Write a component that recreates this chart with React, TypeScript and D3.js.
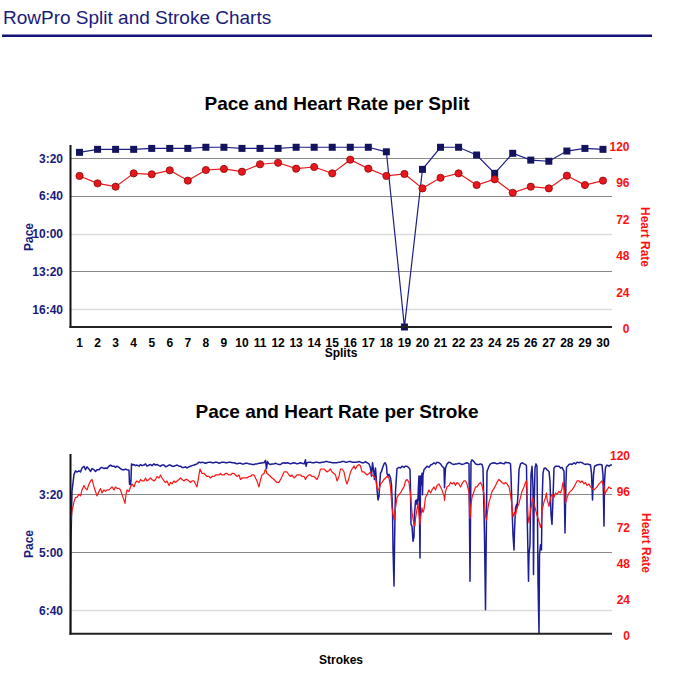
import React from 'react';
import * as d3 from 'd3';

const headerTitle = 'RowPro Split and Stroke Charts';
const splitTitle = 'Pace and Heart Rate per Split';
const strokeTitle = 'Pace and Heart Rate per Stroke';

const splits = [1,2,3,4,5,6,7,8,9,10,11,12,13,14,15,16,17,18,19,20,21,22,23,24,25,26,27,28,29,30];
// pace in seconds
const splitPace = [170,154,154,154,149,149,149,143,143,149,149,149,143,143,143,143,143,167,1095,260,143,143,184,281,175,211,217,163,149,154];
const splitHR = [99.6,94.7,92.5,101.3,100.7,103.3,96.5,103.5,104.2,102.4,107.3,108.3,104.4,105.5,101.3,110.3,104.4,99.6,100.9,91.4,98.4,101.3,93.6,97.4,88.5,92.5,91.4,99.8,93.6,96.5];

const splitPaceTicks = [200,400,600,800,1000];
const strokePaceTicks = [200,300,400];
const hrTicks = [0,24,48,72,96,120];

// [stroke, pace seconds]
const strokePace: [number, number][] = [[0,440],[1,278],[3,195],[7,166],[10,160],[13,162],[17,160],[20,162],[23,155],[27,152],[30,158],[33,153],[37,157],[40,161],[43,156],[47,158],[50,161],[53,158],[57,158],[60,155],[63,154],[67,156],[70,155],[73,156],[77,152],[80,150],[83,152],[87,152],[90,154],[93,152],[97,154],[100,156],[103,158],[107,158],[110,157],[113,158],[117,159],[118,183],[119,178],[120,184],[121,176],[122,148],[125,150],[127,149],[130,151],[133,150],[137,152],[140,149],[143,151],[147,150],[150,148],[153,152],[157,150],[160,149],[163,151],[167,148],[170,150],[173,149],[177,151],[180,152],[183,150],[187,150],[190,153],[193,152],[197,150],[200,150],[203,152],[207,152],[210,151],[213,150],[217,152],[220,152],[223,154],[227,154],[230,153],[233,155],[237,153],[240,152],[243,151],[247,150],[250,149],[253,148],[257,145],[260,146],[263,145],[267,146],[270,147],[273,146],[277,145],[280,145],[283,146],[287,146],[290,145],[293,145],[297,147],[300,146],[303,145],[307,145],[310,146],[313,146],[317,145],[320,145],[323,146],[327,146],[330,147],[333,148],[337,147],[340,147],[343,148],[347,148],[350,147],[353,147],[357,148],[360,148],[363,149],[367,149],[370,148],[373,148],[377,147],[380,147],[383,146],[387,146],[390,142],[392,156],[394,144],[397,148],[400,149],[403,148],[407,148],[410,147],[413,148],[417,149],[420,149],[423,147],[427,146],[430,147],[433,146],[437,147],[440,148],[443,147],[447,146],[450,147],[453,148],[457,147],[460,146],[463,147],[467,148],[470,141],[471,152],[473,146],[477,145],[480,145],[483,146],[487,146],[490,145],[493,145],[497,146],[500,146],[503,145],[507,145],[510,144],[513,144],[517,145],[520,145],[523,146],[527,146],[530,146],[533,146],[537,145],[540,145],[543,144],[547,144],[550,145],[553,145],[557,144],[560,144],[563,145],[567,145],[570,145],[573,145],[577,144],[580,145],[583,146],[587,146],[590,144],[593,146],[597,148],[600,155],[602,169],[604,146],[607,164],[608,175],[610,155],[612,178],[613,192],[615,210],[617,204],[619,175],[620,164],[622,161],[624,155],[627,148],[629,146],[631,149],[632,152],[633,164],[635,169],[637,166],[640,172],[642,184],[644,227],[645,293],[647,358],[648,293],[649,235],[650,195],[653,156],[657,154],[660,155],[663,152],[667,154],[670,152],[673,152],[677,155],[679,158],[680,195],[681,252],[683,255],[685,281],[687,273],[688,235],[690,212],[692,210],[693,218],[695,207],[696,184],[697,169],[699,310],[700,169],[701,184],[703,164],[704,201],[705,167],[707,158],[710,155],[713,152],[717,154],[720,150],[723,149],[727,146],[730,148],[733,145],[737,146],[740,148],[743,152],[747,155],[748,189],[750,155],[753,148],[757,145],[760,146],[763,148],[767,149],[770,148],[773,148],[777,147],[780,148],[783,149],[787,148],[790,147],[793,146],[797,148],[799,350],[801,144],[803,141],[807,144],[810,148],[813,149],[817,149],[820,148],[823,149],[825,155],[828,270],[830,399],[832,235],[833,161],[837,152],[840,148],[843,147],[847,146],[850,147],[853,148],[857,147],[860,146],[863,147],[867,148],[870,145],[873,146],[877,146],[880,148],[881,167],[883,224],[885,270],[887,296],[888,264],[890,224],[892,218],[893,224],[895,201],[897,158],[900,148],[903,146],[907,148],[910,149],[912,152],[913,224],[915,304],[916,350],[917,304],[919,287],[920,224],[921,167],[923,152],[925,189],[926,338],[927,235],[929,155],[931,148],[933,152],[934,235],[935,350],[937,439],[938,304],[940,287],[942,296],[943,218],[945,164],[947,156],[950,155],[953,158],[957,161],[959,178],[961,235],[963,252],[965,207],[967,155],[970,152],[973,152],[977,152],[980,155],[983,154],[987,161],[989,267],[991,178],[992,154],[997,149],[1000,148],[1003,149],[1007,146],[1010,148],[1013,145],[1017,146],[1020,145],[1023,146],[1027,148],[1030,149],[1033,148],[1037,149],[1040,150],[1042,164],[1044,210],[1046,167],[1048,152],[1053,150],[1057,149],[1060,149],[1063,150],[1065,167],[1067,255],[1068,178],[1070,154],[1073,150],[1077,152],[1080,150],[1083,150]];

// [stroke, heart rate]
const strokeHR: [number, number][] = [[0,73],[1,76],[3,82],[7,88],[10,91],[13,91],[17,93],[20,92],[23,96],[27,99],[30,97],[33,96],[37,100],[40,102],[43,103],[47,98],[50,95],[53,92],[57,95],[60,97],[63,94],[67,96],[70,95],[73,96],[77,96],[80,97],[83,98],[87,96],[90,98],[93,97],[97,97],[100,96],[103,93],[107,89],[109,87],[111,93],[113,96],[117,95],[120,98],[123,100],[127,98],[130,101],[133,102],[137,101],[140,103],[143,102],[147,102],[150,104],[153,102],[157,103],[160,104],[163,103],[167,102],[170,103],[173,105],[177,104],[180,106],[183,104],[187,102],[190,101],[193,102],[197,99],[200,101],[203,100],[207,102],[210,101],[213,102],[217,103],[220,104],[223,103],[227,102],[230,103],[233,103],[237,102],[240,101],[243,102],[247,102],[250,100],[253,98],[257,106],[259,110],[263,107],[267,107],[270,106],[273,105],[277,105],[280,104],[283,105],[287,105],[290,106],[293,106],[297,106],[300,107],[303,106],[307,106],[310,107],[313,107],[317,106],[320,106],[323,107],[327,107],[330,106],[333,105],[337,106],[340,103],[343,104],[347,104],[350,104],[353,104],[357,105],[360,105],[363,106],[367,106],[370,104],[373,102],[377,98],[380,103],[383,106],[387,107],[390,110],[393,107],[397,106],[400,105],[403,104],[407,103],[410,102],[413,101],[417,101],[420,103],[423,105],[427,108],[430,108],[433,108],[437,106],[440,105],[443,106],[447,104],[450,105],[453,106],[457,106],[460,106],[463,105],[467,105],[470,103],[473,105],[477,106],[480,106],[483,105],[487,105],[490,104],[493,103],[497,106],[500,110],[503,110],[507,110],[510,109],[513,108],[517,109],[520,110],[523,108],[527,107],[530,106],[533,102],[537,105],[540,110],[543,110],[547,108],[550,103],[553,100],[557,104],[560,108],[563,110],[567,112],[570,110],[573,112],[577,113],[580,112],[583,108],[587,108],[590,107],[593,106],[597,107],[600,108],[603,106],[607,105],[610,104],[613,97],[617,96],[620,100],[623,101],[627,103],[630,104],[633,105],[637,104],[640,98],[643,84],[647,76],[650,84],[653,91],[657,93],[660,94],[663,96],[667,98],[670,102],[673,103],[677,101],[680,93],[683,81],[687,73],[689,72],[690,77],[692,81],[693,83],[695,87],[697,80],[699,73],[700,77],[703,84],[705,81],[707,83],[710,91],[713,93],[717,96],[720,94],[723,96],[727,98],[730,96],[733,99],[737,100],[740,98],[743,96],[747,92],[748,89],[750,95],[753,98],[757,99],[760,101],[763,100],[767,101],[770,99],[773,101],[777,100],[780,98],[783,100],[787,102],[790,102],[793,100],[797,94],[799,77],[801,86],[803,91],[807,95],[810,98],[813,98],[817,100],[820,101],[823,99],[827,93],[830,78],[832,76],[835,84],[837,88],[840,91],[843,95],[847,97],[850,99],[853,101],[857,103],[860,102],[863,101],[867,100],[870,101],[873,100],[877,98],[880,93],[883,85],[885,78],[888,81],[890,79],[893,84],[897,87],[900,91],[903,95],[907,98],[910,101],[912,102],[913,95],[915,79],[917,74],[920,82],[923,88],[925,91],[927,87],[930,83],[933,79],[937,75],[940,71],[942,74],[943,82],[947,88],[950,91],[952,94],[953,90],[957,85],[960,91],[963,93],[967,91],[970,94],[973,93],[977,95],[980,94],[983,97],[985,101],[988,95],[990,87],[993,91],[997,94],[1000,95],[1003,96],[1007,98],[1010,100],[1013,102],[1017,102],[1020,101],[1023,102],[1027,100],[1030,101],[1033,99],[1037,100],[1040,98],[1043,97],[1047,96],[1050,97],[1053,98],[1057,100],[1060,101],[1063,102],[1067,98],[1069,93],[1071,95],[1073,96],[1077,98],[1080,97],[1083,97]];

const FONT = "'Liberation Sans', Arial, Helvetica, sans-serif";
const NAVY = '#1a1a7c';
const RED = '#ff1010';

function fmtPace(s: number) {
  const m = Math.floor(s / 60);
  const sec = Math.round(s - m * 60);
  return `${m}:${sec < 10 ? '0' : ''}${sec}`;
}

const L = 70.5;
const R = 612;

export default function App() {
  // Top chart
  const t1 = 145, b1 = 327;
  const x1 = d3.scaleBand<number>().domain(splits).range([L, R]);
  const yP1 = d3.scaleLinear().domain([131, 1095]).range([t1, b1]);
  const yH1 = d3.scaleLinear().domain([0, 120]).range([b1, t1]);
  const cx = (d: number) => (x1(d) as number) + x1.bandwidth() / 2;
  const paceLine1 = d3.line<number>().x((d, i) => cx(splits[i])).y(d => yP1(d))(splitPace) || '';
  const hrLine1 = d3.line<number>().x((d, i) => cx(splits[i])).y(d => yH1(d))(splitHR) || '';

  // Bottom chart
  const t2 = 454, b2 = 633.7;
  const x2 = d3.scaleLinear().domain([0, 1083]).range([L, R]);
  const yP2 = d3.scaleLinear().domain([131, 440]).range([t2, b2]);
  const yH2 = d3.scaleLinear().domain([0, 120]).range([b2, t2]);
  const paceLine2 = d3.line<[number, number]>().x(d => x2(d[0])).y(d => yP2(d[1]))(strokePace) || '';
  const hrLine2 = d3.line<[number, number]>().x(d => x2(d[0])).y(d => yH2(d[1]))(strokeHR) || '';

  const darkTop = new Set([200, 400, 800]);
  const darkBot = new Set([200, 300]);

  return (
    <div style={{ position: 'absolute', left: 0, top: 0 }}>
      <svg width={674} height={696} style={{ display: 'block', background: '#fff' }} fontFamily={FONT}>
        <text x={3} y={24} fontSize={19} fill={NAVY}>{headerTitle}</text>
        <rect x={2} y={34.5} width={650} height={2.5} fill="#13137a" />

        {/* ---------- Top chart ---------- */}
        <text x={337} y={110} fontSize={19} fontWeight="bold" textAnchor="middle" fill="#000">{splitTitle}</text>
        {splitPaceTicks.map(t => (
          <line key={'g1' + t} x1={L} x2={R} y1={Math.round(yP1(t)) + 0.5} y2={Math.round(yP1(t)) + 0.5}
            stroke={darkTop.has(t) ? '#8a8a8a' : '#dcdcdc'} strokeWidth={darkTop.has(t) ? 1 : 1.5} />
        ))}
        {splitPaceTicks.map(t => (
          <text key={'l1' + t} x={63} y={yP1(t) + 4.5} fontSize={12} fontWeight="bold" fill={NAVY} textAnchor="end">{fmtPace(t)}</text>
        ))}
        {hrTicks.map(t => (
          <text key={'r1' + t} x={629.5} y={yH1(t) + 6} fontSize={12} fontWeight="bold" fill={RED} textAnchor="end">{t}</text>
        ))}
        <text transform={`translate(32.5,237) rotate(-90)`} fontSize={12} fontWeight="bold" fill={NAVY} textAnchor="middle">Pace</text>
        <text transform={`translate(641,237) rotate(90)`} fontSize={12} fontWeight="bold" fill={RED} textAnchor="middle">Heart Rate</text>
        {splits.map(s => (
          <text key={'x' + s} x={cx(s)} y={347} fontSize={12} fontWeight="bold" fill="#000" textAnchor="middle">{s}</text>
        ))}
        <text x={341} y={357} fontSize={12} fontWeight="bold" fill="#000" textAnchor="middle">Splits</text>

        <path d={paceLine1} fill="none" stroke="#1e1e8a" strokeWidth={1.2} />
        {splitPace.map((p, i) => (
          <rect key={'sq' + i} x={cx(splits[i]) - 3.5} y={yP1(p) - 3.5} width={7} height={7} fill="#14145e" />
        ))}
        <path d={hrLine1} fill="none" stroke="#e8191c" strokeWidth={1.2} />
        {splitHR.map((h, i) => (
          <circle key={'c' + i} cx={cx(splits[i])} cy={yH1(h)} r={3.6} fill="#e8161d" stroke="#8a0a0a" strokeWidth={0.8} />
        ))}
        <line x1={L} x2={L} y1={t1} y2={b1 + 1} stroke="#111" strokeWidth={2} />
        <line x1={L - 1} x2={R} y1={b1} y2={b1} stroke="#222" strokeWidth={2} />

        {/* ---------- Bottom chart ---------- */}
        <text x={337} y={418} fontSize={19} fontWeight="bold" textAnchor="middle" fill="#000">{strokeTitle}</text>
        {strokePaceTicks.map(t => (
          <line key={'g2' + t} x1={L} x2={R} y1={Math.round(yP2(t)) + 0.5} y2={Math.round(yP2(t)) + 0.5}
            stroke={darkBot.has(t) ? '#8a8a8a' : '#dcdcdc'} strokeWidth={darkBot.has(t) ? 1 : 1.5} />
        ))}
        {strokePaceTicks.map(t => (
          <text key={'l2' + t} x={63} y={yP2(t) + 5} fontSize={12} fontWeight="bold" fill={NAVY} textAnchor="end">{fmtPace(t)}</text>
        ))}
        {hrTicks.map(t => (
          <text key={'r2' + t} x={630} y={yH2(t) + 6} fontSize={12} fontWeight="bold" fill={RED} textAnchor="end">{t}</text>
        ))}
        <text transform={`translate(32.5,544) rotate(-90)`} fontSize={12} fontWeight="bold" fill={NAVY} textAnchor="middle">Pace</text>
        <text transform={`translate(642,543) rotate(90)`} fontSize={12} fontWeight="bold" fill={RED} textAnchor="middle">Heart Rate</text>
        <text x={341} y={664} fontSize={12} fontWeight="bold" fill="#000" textAnchor="middle">Strokes</text>

        <path d={paceLine2} fill="none" stroke="#1c1c96" strokeWidth={1.5} strokeLinejoin="round" />
        <path d={hrLine2} fill="none" stroke="#ff1515" strokeWidth={1.2} strokeLinejoin="round" />
        <line x1={L} x2={L} y1={t2} y2={b2 + 1} stroke="#111" strokeWidth={2} />
        <line x1={L - 1} x2={R} y1={b2} y2={b2} stroke="#222" strokeWidth={2} />
      </svg>
    </div>
  );
}
